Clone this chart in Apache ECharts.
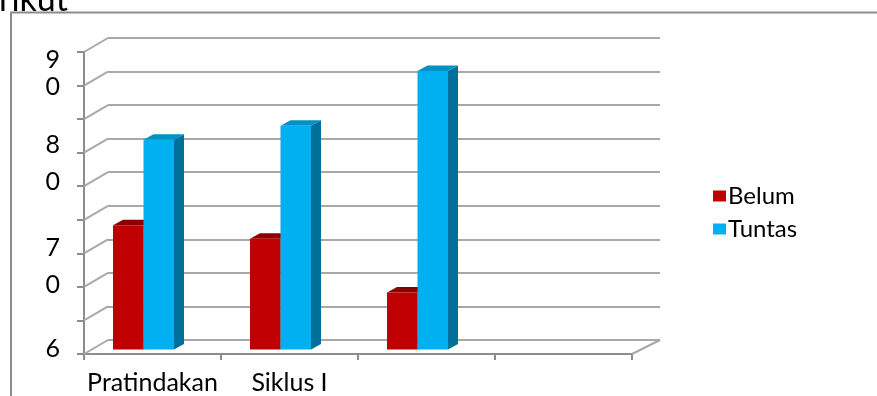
<!DOCTYPE html>
<html>
<head>
<meta charset="utf-8">
<script src="https://cdn.jsdelivr.net/npm/echarts@6/dist/echarts.min.js"></script>
<style>
  html, body { margin: 0; padding: 0; background: #fff; }
  #chart { width: 877px; height: 396px; }
</style>
</head>
<body>
<div id="chart"></div>
<script>
// Categories along the floor of the 3D column chart
const categories = ['Pratindakan', 'Siklus I', '', ''];
// Share of students per cycle (percent)
const belum = [37, 33, 17, null];
const tuntas = [62.5, 66.7, 83, null];
// Gridline values of the value axis
const yTicks = [0, 10, 20, 30, 40, 50, 60, 70, 80, 90];
// Value-axis label text and the axis value each one sits at
const yLabelText = ['6', '0', '7', '0', '8', '0', '9'];
const yLabelAt = [1.5, 20.7, 31.6, 51.4, 62.4, 79.6, 87.6];

const FONT = 'Lato';
const AXIS_GREY = '#8c8c8c';
const GRID_GREY = '#a8a8a8';

// Depth offsets of the wall/floor and of each column
const WALL_DX = 24, WALL_DY = -14, FLOOR_RIGHT_DX = 28;
const BAR_SHIFT_X = 7, BAR_SHIFT_Y = -4.5, BAR_DX = 10, BAR_DY = -5.5;

function renderWall(params, api) {
  const v = api.value(1);
  const cs = params.coordSys;
  const y = api.coord([0, v])[1];
  const style = { stroke: GRID_GREY, lineWidth: 2 };
  const children = [{
    type: 'line',
    shape: { x1: cs.x, y1: y, x2: cs.x + WALL_DX, y2: y + WALL_DY },
    style: style
  }];
  if (v === 0) {
    children.push({
      type: 'line',
      shape: { x1: cs.x + cs.width, y1: y, x2: cs.x + cs.width + FLOOR_RIGHT_DX, y2: y + WALL_DY },
      style: style
    });
  }
  return { type: 'group', children: children };
}

function makeBar(slot, frontColor, topColor, sideColor) {
  return function (params, api) {
    const ci = api.value(0);
    const val = api.value(1);
    if (val == null || isNaN(val)) return null;
    const base = api.coord([ci, 0]);
    const tp = api.coord([ci, val]);
    const band = api.size([1, 0])[0];
    const w = band * 30.5 / 137;
    const x0 = base[0] - band / 2 + band * 22 / 137 + slot * w + BAR_SHIFT_X;
    const x1 = x0 + w;
    const yb = base[1] + BAR_SHIFT_Y;
    const yt = tp[1] + BAR_SHIFT_Y;
    return {
      type: 'group',
      children: [
        {
          type: 'polygon',
          shape: { points: [[x1, yt], [x1 + BAR_DX, yt + BAR_DY], [x1 + BAR_DX, yb + BAR_DY], [x1, yb]] },
          style: { fill: sideColor }
        },
        {
          type: 'polygon',
          shape: { points: [[x0, yt], [x1, yt], [x1 + BAR_DX, yt + BAR_DY], [x0 + BAR_DX, yt + BAR_DY]] },
          style: { fill: topColor }
        },
        {
          type: 'rect',
          shape: { x: x0, y: yt, width: w, height: yb - yt },
          style: { fill: frontColor }
        }
      ]
    };
  };
}

const chart = echarts.init(document.getElementById('chart'), null, { renderer: 'canvas' });

chart.setOption({
  backgroundColor: '#ffffff',
  animation: false,
  textStyle: { fontFamily: FONT },
  graphic: [
    {
      type: 'polyline',
      shape: { points: [[11, 400], [11, 12.5], [880, 12.5]] },
      style: { stroke: AXIS_GREY, lineWidth: 2, fill: null },
      z: 0
    },
    {
      type: 'text',
      x: 68, y: 0,
      style: { text: 'berikut', font: '34px ' + FONT, fill: '#000', align: 'right', verticalAlign: 'middle' }
    }
  ],
  legend: {
    orient: 'vertical',
    left: 708,
    top: 178,
    itemWidth: 13,
    itemHeight: 11,
    itemGap: 7,
    icon: 'rect',
    textStyle: { fontFamily: FONT, fontSize: 24, color: '#000', lineHeight: 26, padding: [0, 0, 0, -3] },
    data: ['Belum', 'Tuntas']
  },
  grid: [
    { left: 84, right: 245, top: 52, bottom: 42 },
    { left: 108, right: 217, top: 38, bottom: 56 }
  ],
  xAxis: [
    {
      type: 'category',
      gridIndex: 0,
      data: categories,
      boundaryGap: true,
      axisLine: { show: true, lineStyle: { color: AXIS_GREY, width: 2 } },
      axisTick: { show: true, length: 6, lineStyle: { color: AXIS_GREY, width: 2 } },
      axisLabel: { fontFamily: FONT, fontSize: 25, color: '#000', margin: 16, interval: 0 }
    },
    {
      type: 'category',
      gridIndex: 1,
      data: categories,
      show: false
    }
  ],
  yAxis: [
    {
      type: 'value',
      gridIndex: 0,
      min: 0, max: 90, interval: 10,
      axisLine: { show: true, lineStyle: { color: AXIS_GREY, width: 2 } },
      axisTick: { show: true, length: 7, lineStyle: { color: AXIS_GREY, width: 2 } },
      splitLine: { show: false },
      axisLabel: {
        fontFamily: FONT, fontSize: 25, color: '#000', margin: 24,
        customValues: yLabelAt,
        formatter: function (value) {
          const i = yLabelAt.indexOf(value);
          return i >= 0 ? yLabelText[i] : '';
        }
      }
    },
    {
      type: 'value',
      gridIndex: 1,
      min: 0, max: 90, interval: 10,
      axisLine: { show: false },
      axisTick: { show: false },
      axisLabel: { show: false },
      splitLine: { show: true, lineStyle: { color: GRID_GREY, width: 2 } }
    }
  ],
  series: [
    {
      type: 'custom',
      name: 'walls',
      xAxisIndex: 0, yAxisIndex: 0,
      silent: true,
      clip: false,
      renderItem: renderWall,
      data: yTicks.map(function (v) { return [0, v]; }),
      z: 1
    },
    {
      type: 'custom',
      name: 'Belum',
      xAxisIndex: 0, yAxisIndex: 0,
      itemStyle: { color: '#C00000' },
      renderItem: makeBar(0, '#C00000', '#8E0000', '#8E0000'),
      encode: { x: 0, y: 1 },
      data: belum.map(function (v, i) { return [i, v]; }),
      z: 3
    },
    {
      type: 'custom',
      name: 'Tuntas',
      xAxisIndex: 0, yAxisIndex: 0,
      itemStyle: { color: '#00B0F0' },
      renderItem: makeBar(1, '#00B0F0', '#0092C6', '#006F9A'),
      encode: { x: 0, y: 1 },
      data: tuntas.map(function (v, i) { return [i, v]; }),
      z: 4
    }
  ]
});
</script>
</body>
</html>
